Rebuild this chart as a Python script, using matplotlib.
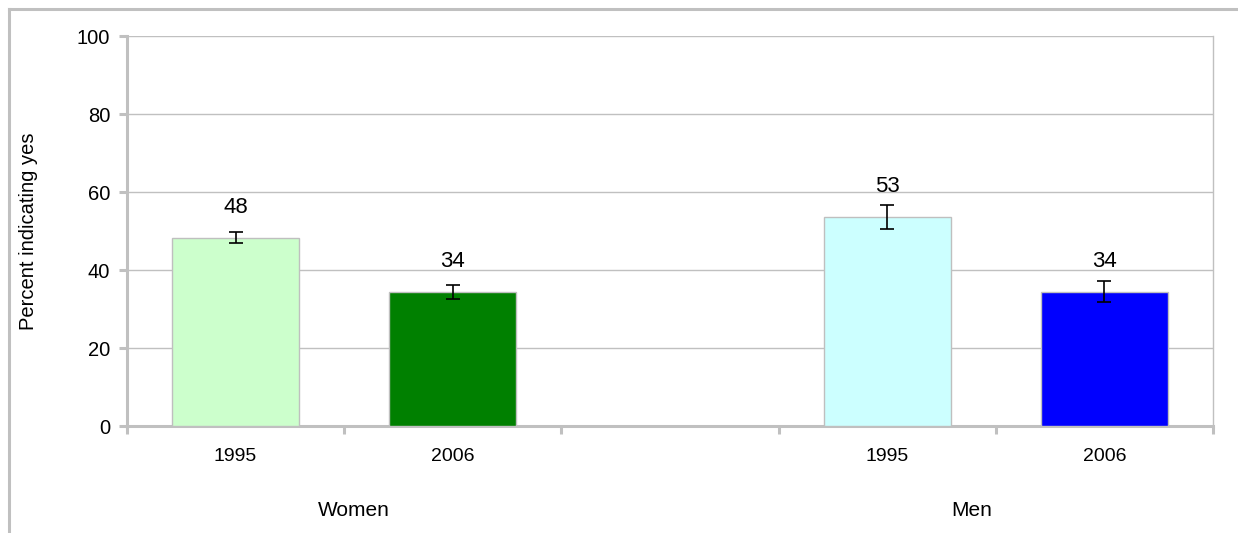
import matplotlib
matplotlib.use("Agg")
import matplotlib.pyplot as plt
from matplotlib.lines import Line2D

plt.rcParams['font.family'] = ['Liberation Sans', 'DejaVu Sans']

# Data
groups = ["Women", "Men"]
years = ["1995", "2006", "", "1995", "2006"]
values = [48.3, 34.4, 53.6, 34.4]
errors = [1.35, 1.8, 3.1, 2.7]
labels = ["48", "34", "53", "34"]
colors = ["#CCFFCC", "#008000", "#CCFFFF", "#0000FF"]
slots = [0, 1, 3, 4]

W, H = 1238, 533
fig = plt.figure(figsize=(W / 100, H / 100), dpi=100)
ax = fig.add_axes([127 / W, 1 - 426 / H, (1213 - 127) / W, (426 - 36) / H])

grid_c = "#c0c0c0"
ax.bar(slots, values, width=0.585, color=colors, edgecolor="#bfbfbf", linewidth=1, zorder=3)
ax.errorbar(slots, values, yerr=errors, fmt="none", ecolor="black", elinewidth=1.2,
            capsize=5, capthick=1.2, zorder=4)
for s, v, lab in zip(slots, values, labels):
    ax.annotate(lab, (s, v), xytext=(0, 22), textcoords="offset points",
                ha="center", va="center", fontsize=16)

ax.set_xlim(-0.5, 4.5)
ax.set_ylim(0, 100)
ax.set_yticks(range(0, 101, 20))
ax.yaxis.grid(True, color=grid_c, linewidth=1, zorder=0)
ax.set_axisbelow(True)

# x ticks: separators at slot boundaries, labels at centers
ax.set_xticks([i - 0.5 for i in range(6)])
ax.set_xticklabels([])
ax.set_xticks(range(5), minor=True)
ax.set_xticklabels(years, minor=True)
ax.tick_params(axis="x", which="major", length=6, width=2.2, color=grid_c, direction="out")
ax.tick_params(axis="x", which="minor", length=0, pad=16, labelsize=14)
ax.tick_params(axis="y", length=6, width=2.2, color=grid_c, pad=6, labelsize=14.5)

for side in ["left", "bottom"]:
    ax.spines[side].set_color(grid_c)
    ax.spines[side].set_linewidth(2.2)
ax.spines["right"].set_color(grid_c)
ax.spines["right"].set_linewidth(1)
ax.spines["top"].set_visible(False)

ax.set_ylabel("Percent indicating yes", fontsize=14.5)
ax.yaxis.set_label_coords((38 - 127) / 1086, 0.5)

# group labels
ax.text((354 - 127) / 1086, 1 - (511 - 36) / 390, "Women", transform=ax.transAxes,
        ha="center", va="center", fontsize=15)
ax.text((972 - 127) / 1086, 1 - (511 - 36) / 390, "Men", transform=ax.transAxes,
        ha="center", va="center", fontsize=15)

# figure frame (top and left visible)
fig.add_artist(Line2D([9 / W, 1], [1 - 9 / H, 1 - 9 / H], transform=fig.transFigure,
                      color=grid_c, linewidth=2.2))
fig.add_artist(Line2D([9 / W, 9 / W], [0, 1 - 9 / H], transform=fig.transFigure,
                      color=grid_c, linewidth=2.2))

fig.savefig("out.png", dpi=100, facecolor="white")
